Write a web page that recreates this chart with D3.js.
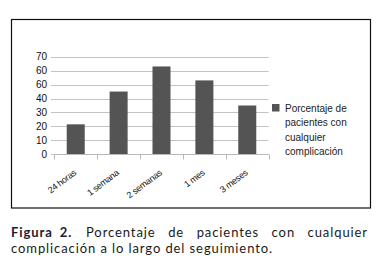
<!DOCTYPE html>
<html><head><meta charset="utf-8">
<script src="https://cdn.jsdelivr.net/npm/d3@7"></script>
<style>html,body{margin:0;padding:0;background:#fff;}svg{display:block;}</style>
</head><body>
<script>
const categories = ["24 horas","1 semana","2 semanas","1 mes","3 meses"];
const values = [21.5, 45, 63, 53, 35];
const tickValues = [0,10,20,30,40,50,60,70];
const tickLabels = ["0","10","20","30","40","60","60","70"];
const seriesName = ["Porcentaje de","pacientes con","cualquier","complicación"];
const captionBold = "Figura 2.";
const captionLine1 = "Porcentaje de pacientes con cualquier";
const captionLine2 = "complicación a lo largo del seguimiento.";

const W=378,H=269;
const svg=d3.select("body").append("svg").attr("width",W).attr("height",H);
svg.append("rect").attr("width",W).attr("height",H).attr("fill","#fff");
// frame
svg.append("rect").attr("x",11.5).attr("y",19.5).attr("width",359).attr("height",188.5)
  .attr("fill","none").attr("stroke","#111").attr("stroke-width",1.2);

const x=d3.scaleBand().domain(categories).range([54.3,268.7]).paddingInner(0.58).paddingOuter(0.29);
const y=d3.scaleLinear().domain([0,70]).range([154.3,56.7]);

// gridlines
svg.append("g").selectAll("line").data(tickValues).join("line")
  .attr("x1",51).attr("x2",268.7).attr("y1",d=>Math.round(y(d))+0.5).attr("y2",d=>Math.round(y(d))+0.5)
  .attr("stroke","#c4c4c4").attr("stroke-width",1);
// y labels
svg.append("g").selectAll("text").data(tickValues).join("text")
  .attr("x",47).attr("y",d=>y(d)+3.5).attr("text-anchor","end")
  .attr("font-family","Liberation Sans, Arial, sans-serif").attr("font-size",10).attr("fill","#111")
  .text((d,i)=>tickLabels[i]);
// bars
svg.append("g").selectAll("rect").data(values).join("rect")
  .attr("x",(d,i)=>x(categories[i])).attr("width",x.bandwidth())
  .attr("y",d=>y(d)).attr("height",d=>y(0)-y(d)).attr("fill","#545454");
// x baseline + ticks
const bounds=d3.range(categories.length+1).map(i=>54.3+i*(268.7-54.3)/categories.length);
svg.append("line").attr("x1",54.3).attr("x2",268.7).attr("y1",154.5).attr("y2",154.5).attr("stroke","#b8b8b8");
svg.append("g").selectAll("line").data(bounds).join("line")
  .attr("x1",d=>Math.round(d)+0.5).attr("x2",d=>Math.round(d)+0.5).attr("y1",154.5).attr("y2",159.5)
  .attr("stroke","#b8b8b8");
// x labels
svg.append("g").selectAll("text").data(categories).join("text")
  .attr("transform",d=>`translate(${x(d)+x.bandwidth()/2+1},${174}) rotate(-37)`)
  .attr("text-anchor","end")
  .attr("font-family","Liberation Sans, Arial, sans-serif").attr("font-size",9).attr("fill","#111")
  .attr("letter-spacing",-0.3)
  .text(d=>d);
// legend
svg.append("rect").attr("x",272).attr("y",104).attr("width",7.5).attr("height",7.5).attr("fill","#545454");
svg.append("g").selectAll("text").data(seriesName).join("text")
  .attr("x",285).attr("y",(d,i)=>112+i*14.3)
  .attr("font-family","Liberation Sans, Arial, sans-serif").attr("font-size",10).attr("fill","#222")
  .text(d=>d);
// caption
const cap=svg.append("g").attr("font-family","Lato, Open Sans, sans-serif").attr("font-size",13);
const l2=cap.append("text").attr("x",11).attr("y",252.5).attr("fill","#1a1a1a").text(captionLine2);
const ls=Math.max(0,(262-l2.node().getComputedTextLength())/captionLine2.length);
cap.attr("letter-spacing",ls);
const lb=cap.append("text").attr("x",11).attr("y",236.5).attr("font-weight","bold").attr("fill","#1c1c2e")
  .attr("word-spacing",3).text(captionBold);
const bEnd=11+lb.node().getComputedTextLength();
const startX=Math.max(86,bEnd+5);
const l1=cap.append("text").attr("x",startX).attr("y",236.5).attr("fill","#1a1a1a").text(captionLine1);
const w1=l1.node().getComputedTextLength();
l1.attr("word-spacing",Math.max(0,(368-startX-w1)/4));
</script>
</body></html>
